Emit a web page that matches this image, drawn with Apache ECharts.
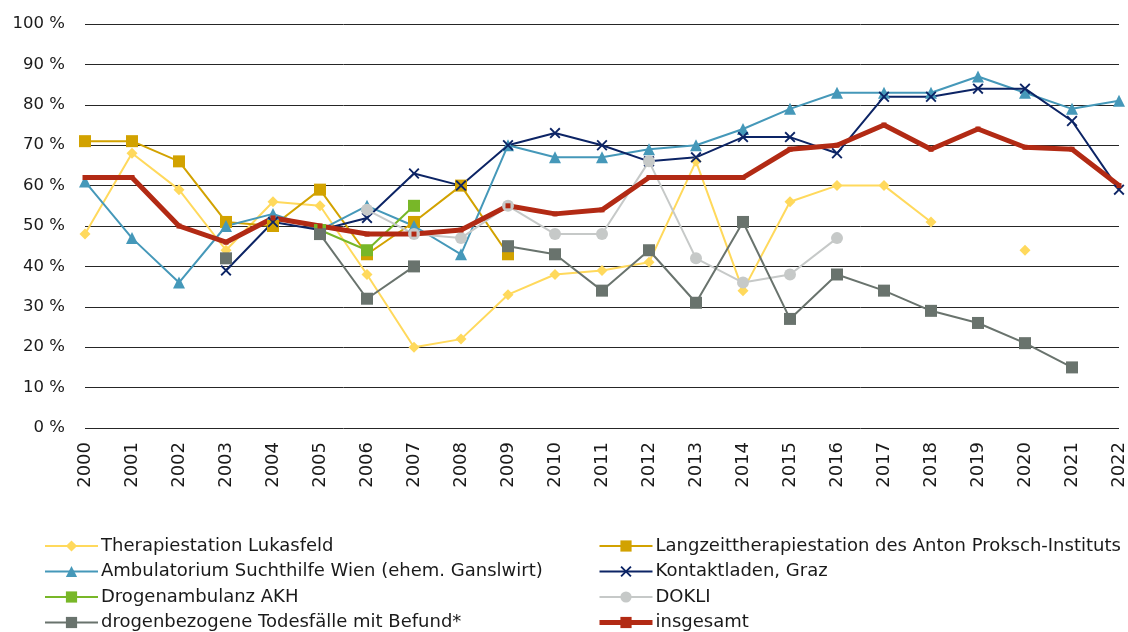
<!DOCTYPE html>
<html>
<head>
<meta charset="utf-8">
<title>Anteil</title>
<script src="https://cdn.jsdelivr.net/npm/echarts@6/dist/echarts.min.js"></script>
<style>
  html, body { margin: 0; padding: 0; background: #fff; }
  #chart { width: 1128px; height: 632px; }
</style>
</head>
<body>
<div id="chart"></div>
<script>
// Jahre
var years = ['2000', '2001', '2002', '2003', '2004', '2005', '2006', '2007', '2008', '2009', '2010',
    '2011', '2012', '2013', '2014', '2015', '2016', '2017', '2018', '2019', '2020', '2021', '2022'];

// Werte in %, null = kein Wert
var lukasfeld = [48, 68, 59, 44, 56, 55, 38, 20, 22, 33, 38, 39, 41, 66, 34, 56, 60, 60, 51, null, 44, null, null];
var proksch = [71, 71, 66, 51, 50, 59, 43, 51, 60, 43, null, null, null, null, null, null, null, null, null, null, null, null, null];
var ambulatorium = [61, 47, 36, 50, 53, 49, 55, 50, 43, 70, 67, 67, 69, 70, 74, 79, 83, 83, 83, 87, 83, 79, 81];
var kontaktladen = [null, null, null, 39, 51, 49, 52, 63, 60, 70, 73, 70, 66, 67, 72, 72, 68, 82, 82, 84, 84, 76, 59];
var akh = [null, null, null, null, null, 49, 44, 55, null, null, null, null, null, null, null, null, null, null, null, null, null, null, null];
var dokli = [null, null, null, null, null, null, 54, 48, 47, 55, 48, 48, 66, 42, 36, 38, 47, null, null, null, null, null, null];
var todesfaelle = [null, null, null, 42, null, 48, 32, 40, null, 45, 43, 34, 44, 31, 51, 27, 38, 34, 29, 26, 21, 15, null];
var insgesamt = [62, 62, 50, 46, 52, 50, 48, 48, 49, 55, 53, 54, 62, 62, 62, 69, 70, 75, 69, 74, 69.5, 69, 60];

var yTicks = { min: 0, max: 100, interval: 10 };

var FONT = 'DejaVu Sans';
var crossPath = 'path://M0,1.2 L1.2,0 L5,3.8 L8.8,0 L10,1.2 L6.2,5 L10,8.8 L8.8,10 L5,6.2 L1.2,10 L0,8.8 L3.8,5 Z';

function lineSeries(name, data, color, symbol, size, width) {
    return {
        name: name,
        type: 'line',
        data: data,
        symbol: symbol,
        symbolSize: size,
        showSymbol: true,
        showAllSymbol: true,
        connectNulls: false,
        animation: false,
        lineStyle: { color: color, width: width || 2 },
        itemStyle: { color: color, borderWidth: 0 },
        emphasis: { disabled: true }
    };
}

var legendBase = {
    orient: 'vertical',
    top: 537,
    bottom: 0,
    padding: 0,
    itemWidth: 53,
    itemHeight: 14,
    itemGap: 7.5,
    textStyle: { fontFamily: FONT, fontSize: 18, color: '#1a1a1a', padding: [0, 0, 0, -2] }
};

var chart = echarts.init(document.getElementById('chart'));
chart.setOption({
    backgroundColor: '#ffffff',
    textStyle: { fontFamily: FONT },
    grid: { left: 85, right: 9, top: 24, bottom: 204 },
    legend: [
        Object.assign({}, legendBase, {
            left: 44,
            data: ['Therapiestation Lukasfeld', 'Ambulatorium Suchthilfe Wien (ehem. Ganslwirt)',
                'Drogenambulanz AKH', 'drogenbezogene Todesfälle mit Befund*']
        }),
        Object.assign({}, legendBase, {
            left: 597,
            data: ['Langzeittherapiestation des Anton Proksch-Instituts', 'Kontaktladen, Graz',
                'DOKLI', { name: 'insgesamt', lineStyle: { width: 5 } }]
        })
    ],
    xAxis: {
        type: 'category',
        data: years,
        boundaryGap: false,
        axisLine: { show: false },
        axisTick: { show: false },
        axisLabel: {
            rotate: 90,
            margin: 14,
            fontFamily: FONT,
            fontSize: 18,
            color: '#1a1a1a'
        }
    },
    yAxis: {
        type: 'value',
        min: yTicks.min,
        max: yTicks.max,
        interval: yTicks.interval,
        axisLine: { show: false },
        axisTick: { show: false },
        axisLabel: {
            formatter: '{value} %',
            margin: 20,
            fontFamily: FONT,
            fontSize: 16.5,
            color: '#1a1a1a'
        },
        splitLine: { lineStyle: { color: '#262626', width: 1 } }
    },
    series: [
        lineSeries('Therapiestation Lukasfeld', lukasfeld, '#FFD95C', 'diamond', 11),
        lineSeries('Langzeittherapiestation des Anton Proksch-Instituts', proksch, '#D2A200', 'rect', 12),
        lineSeries('Ambulatorium Suchthilfe Wien (ehem. Ganslwirt)', ambulatorium, '#4598B9', 'triangle', 12),
        lineSeries('Kontaktladen, Graz', kontaktladen, '#0C2465', crossPath, 11),
        lineSeries('Drogenambulanz AKH', akh, '#78B728', 'rect', 12),
        lineSeries('DOKLI', dokli, '#C6C9C8', 'circle', 12),
        lineSeries('drogenbezogene Todesfälle mit Befund*', todesfaelle, '#69736D', 'rect', 12),
        lineSeries('insgesamt', insgesamt, '#B22A14', 'rect', 5, 5)
    ]
});
</script>
</body>
</html>
